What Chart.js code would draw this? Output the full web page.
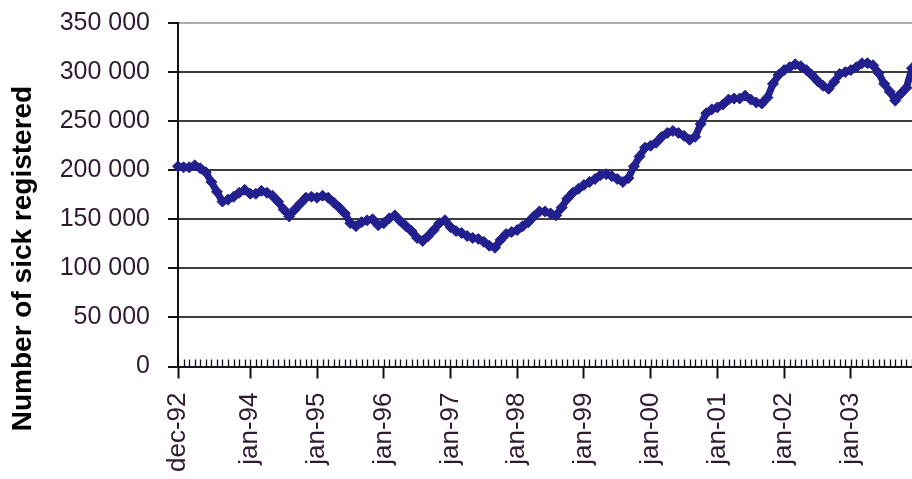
<!DOCTYPE html>
<html>
<head>
<meta charset="utf-8">
<script src="https://cdn.jsdelivr.net/npm/chart.js@4"></script>
<style>
  html, body { margin: 0; padding: 0; background: #ffffff; overflow: hidden; }
  #wrap { width: 912px; height: 479px; }
</style>
</head>
<body>
<div id="wrap"><canvas id="c" width="912" height="479"></canvas></div>
<script>
// ---- data ----
const monthNames = ['jan','feb','mar','apr','maj','jun','jul','aug','sep','okt','nov','dec'];
const years = ['93','94','95','96','97','98','99','00','01','02','03'];
const categories = ['dec-92'];
years.forEach(y => monthNames.forEach(m => categories.push(m + '-' + y)));

const tickLabels = ['dec-92','jan-94','jan-95','jan-96','jan-97','jan-98','jan-99','jan-00','jan-01','jan-02','jan-03'];

const sickRegistered = [
  204000, 203000, 203000, 205000, 202000, 198000, 188000, 178000, 168000, 170000, 173000, 177000, 180000,
  176000, 176000, 179000, 177000, 174000, 168000, 160000, 153000, 160000, 166000, 172000, 173000,
  172000, 174000, 172000, 167000, 162000, 156000, 146000, 143000, 147000, 149000, 150000, 144000,
  146000, 151000, 154000, 148000, 143000, 138000, 131000, 128000, 133000, 139000, 146000, 149000,
  142000, 138000, 136000, 133000, 131000, 130000, 127000, 123000, 121000, 129000, 135000, 137000,
  139000, 143000, 147000, 153000, 158000, 158000, 156000, 154000, 162000, 171000, 177000, 181000,
  185000, 188000, 191000, 195000, 196000, 194000, 191000, 188000, 192000, 204000, 214000, 223000,
  225000, 228000, 234000, 238000, 240000, 238000, 235000, 231000, 234000, 247000, 258000, 262000,
  264000, 267000, 272000, 273000, 273000, 276000, 272000, 269000, 268000, 274000, 288000, 297000,
  302000, 305000, 308000, 306000, 302000, 297000, 291000, 286000, 283000, 290000, 298000, 300000,
  302000, 305000, 309000, 309000, 307000, 299000, 288000, 280000, 271000, 278000, 284000, 304000
];

const yMin = 0;
const yMax = 350000;
const yStep = 50000;
const yTitle = 'Number of sick registered';

// ---- styling ----
const FONT = 'Arial, "Liberation Sans", sans-serif';
const LINE_COLOR = '#221f8e';
const LABEL_COLOR = '#2e1b30';

function fmtThousands(v) {
  return String(v).replace(/\B(?=(\d{3})+(?!\d))/g, ' ');
}

const minorTicks = {
  id: 'minorTicks',
  beforeDatasetsDraw(chart) {
    const xs = chart.scales.x;
    const area = chart.chartArea;
    const ctx = chart.ctx;
    ctx.save();
    ctx.strokeStyle = '#111111';
    ctx.lineWidth = 1.3;
    ctx.beginPath();
    categories.forEach((c, i) => {
      const px = Math.round(xs.getPixelForValue(i)) + 0.5;
      ctx.moveTo(px, area.bottom - 7);
      ctx.lineTo(px, area.bottom);
    });
    ctx.stroke();
    ctx.restore();
  }
};

new Chart(document.getElementById('c'), {
  type: 'line',
  data: {
    labels: categories,
    datasets: [{
      data: sickRegistered,
      borderColor: LINE_COLOR,
      backgroundColor: LINE_COLOR,
      borderWidth: 7,
      pointStyle: 'rectRot',
      pointRadius: 5.5,
      pointBorderWidth: 1,
      pointBackgroundColor: LINE_COLOR,
      pointBorderColor: LINE_COLOR,
      tension: 0,
      fill: false,
      clip: false
    }]
  },
  options: {
    responsive: false,
    animation: false,
    layout: { autoPadding: false, padding: { top: 23, right: -1, bottom: -15, left: 0 } },
    plugins: {
      legend: { display: false },
      tooltip: { enabled: false },
      title: {
        display: true,
        position: 'left',
        text: yTitle,
        color: '#000000',
        font: { family: FONT, size: 28, weight: 'bold' },
        padding: { top: 6.5, bottom: 0 }
      }
    },
    scales: {
      x: {
        type: 'category',
        offset: false,
        grid: {
          display: true,
          drawOnChartArea: false,
          tickLength: 12,
          tickWidth: 2,
          tickColor: (ctx) => (ctx.tick && ctx.tick.label) ? '#111111' : 'rgba(0,0,0,0)'
        },
        border: { display: true, color: '#151525', width: 2 },
        ticks: {
          autoSkip: false,
          minRotation: 90,
          maxRotation: 90,
          padding: 14,
          color: LABEL_COLOR,
          font: { family: FONT, size: 26 },
          callback: function (v, i) {
            const l = categories[i];
            return tickLabels.includes(l) ? l : '';
          }
        },
        afterFit(s) { s.height = 127.5; s.paddingLeft = -1; s.paddingRight = -1; }
      },
      y: {
        min: yMin,
        max: yMax,
        ticks: {
          stepSize: yStep,
          padding: 18,
          color: LABEL_COLOR,
          font: { family: FONT, size: 25 },
          callback: (v) => fmtThousands(v)
        },
        grid: {
          color: (ctx) => (ctx.tick && ctx.tick.value === yMax) ? '#a9abb5' : '#3d3d3d',
          lineWidth: 2,
          tickLength: 10,
          tickColor: '#111111',
          tickWidth: 2
        },
        border: { display: true, color: '#111111', width: 2 },
        afterFit(s) { s.width = 137.9; s.paddingTop = 0; s.paddingBottom = 0; }
      }
    }
  },
  plugins: [minorTicks]
});
</script>
</body>
</html>
